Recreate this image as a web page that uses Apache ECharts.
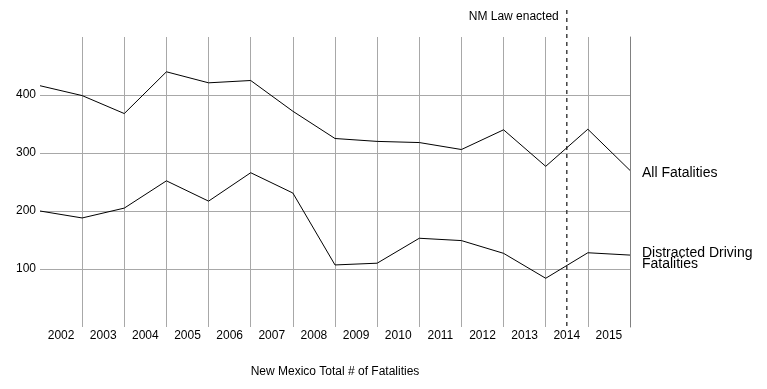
<!DOCTYPE html>
<html>
<head>
<meta charset="utf-8">
<script src="https://cdn.jsdelivr.net/npm/echarts@6/dist/echarts.min.js"></script>
<style>html,body{margin:0;padding:0;background:#fff}#c{width:767px;height:389px}</style>
</head>
<body>
<div id="c"></div>
<script>
var years = ['2002','2003','2004','2005','2006','2007','2008','2009','2010','2011','2012','2013','2014','2015'];
var allFatalities = [416, 399, 368, 440, 421, 425, 372, 325, 320, 318, 306, 340, 277, 341, 270];
var distractedFatalities = [200, 188, 205, 252, 217, 266, 231, 107, 110, 153, 149, 127, 84, 128, 124];
var seriesNames = ['All Fatalities', 'Distracted Driving Fatalities'];
var endLabels = ['All Fatalities', 'Distracted Driving\nFatalities'];
var yTicks = [0, 100, 200, 300, 400, 500];
var lawYear = '2014';
var lawLabel = 'NM Law enacted';
var axisTitle = 'New Mexico Total # of Fatalities';

var FONT = '"Liberation Sans", Arial, Helvetica, sans-serif';
var GRID = '#a8a8a8';

function pairs(arr) { return arr.map(function (v, i) { return [i, v]; }); }

var chart = echarts.init(document.getElementById('c'), null, { renderer: 'canvas' });
chart.setOption({
  animation: false,
  backgroundColor: '#fff',
  textStyle: { fontFamily: FONT },
  grid: { left: 40, right: 137, top: 37, bottom: 62 },
  xAxis: [{
    type: 'category',
    data: years,
    boundaryGap: true,
    axisLine: { show: false },
    axisTick: { show: false },
    axisLabel: { color: '#000', fontSize: 12, fontFamily: FONT, margin: 3 },
    splitLine: { show: true, showMinLine: false, showMaxLine: false, lineStyle: { color: GRID, width: 1 } },
    name: axisTitle,
    nameLocation: 'middle',
    nameGap: 39,
    nameTextStyle: { color: '#000', fontSize: 12, fontFamily: FONT }
  }, {
    type: 'value',
    min: 0,
    max: years.length,
    show: false
  }],
  yAxis: [{
    type: 'value',
    min: yTicks[0],
    max: yTicks[yTicks.length - 1],
    interval: yTicks[1] - yTicks[0],
    axisLine: { show: false },
    axisTick: { show: false },
    axisLabel: { color: '#000', fontSize: 12, fontFamily: FONT, margin: 4, showMinLabel: false, showMaxLabel: false },
    splitLine: { show: true, showMinLine: false, showMaxLine: false, lineStyle: { color: GRID, width: 1 } }
  }, {
    type: 'value',
    position: 'right',
    min: yTicks[0],
    max: yTicks[yTicks.length - 1],
    interval: yTicks[1] - yTicks[0],
    axisLine: { show: true, lineStyle: { color: '#808080', width: 1 } },
    axisTick: { show: false },
    axisLabel: { show: false },
    splitLine: { show: false }
  }],
  series: [{
    name: seriesNames[0],
    type: 'line',
    xAxisIndex: 1,
    yAxisIndex: 0,
    data: pairs(allFatalities),
    symbol: 'none',
    lineStyle: { color: '#000', width: 1 },
    itemStyle: { color: '#000' },
    endLabel: { show: true, formatter: endLabels[0], color: '#000', fontSize: 14, fontFamily: FONT, distance: 12, lineHeight: 11, offset: [0, 3] }
  }, {
    name: seriesNames[1],
    type: 'line',
    xAxisIndex: 1,
    yAxisIndex: 0,
    data: pairs(distractedFatalities),
    symbol: 'none',
    lineStyle: { color: '#000', width: 1 },
    itemStyle: { color: '#000' },
    endLabel: { show: true, formatter: endLabels[1], color: '#000', fontSize: 14, fontFamily: FONT, distance: 12, lineHeight: 11, offset: [0, 4] }
  }]
});

var lx = chart.convertToPixel({ xAxisIndex: 0 }, lawYear);
var ly0 = chart.convertToPixel({ yAxisIndex: 0 }, yTicks[0]);
chart.setOption({
  graphic: [{
    type: 'line',
    shape: { x1: lx, y1: 10, x2: lx, y2: ly0 },
    style: { stroke: '#444', lineWidth: 1.5, lineDash: [4, 4] },
    silent: true
  }, {
    type: 'text',
    x: lx - 8,
    y: 17,
    style: { text: lawLabel, fill: '#000', font: '12px ' + FONT, align: 'right', verticalAlign: 'middle' },
    silent: true
  }]
});
</script>
</body>
</html>
